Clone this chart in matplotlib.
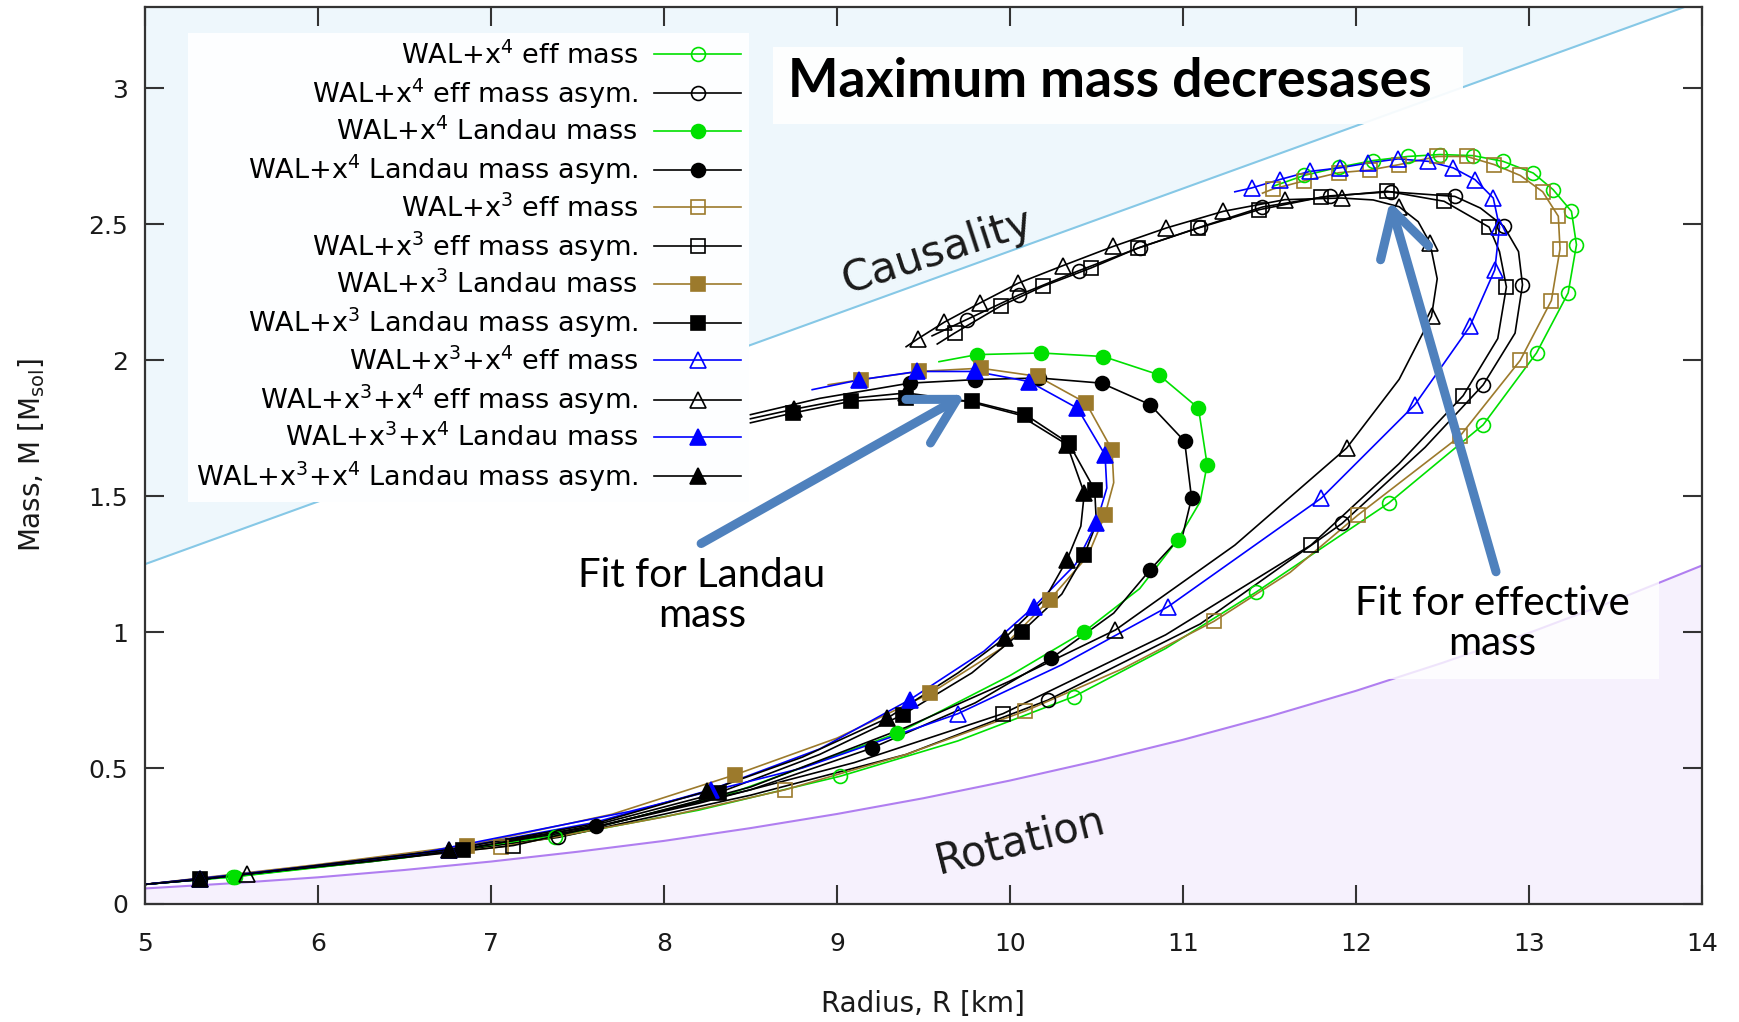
import matplotlib.pyplot as plt
from matplotlib.lines import Line2D
from matplotlib.patches import Rectangle

plt.rcParams['font.family'] = ['DejaVu Sans']
plt.rcParams['mathtext.fontset'] = 'dejavusans'

# causality and rotation limits (R in km, M in M_sol)
causalityR = [5.0, 13.9]
causalityM = [1.25, 3.30]
rotationR = [5, 5.5, 6, 6.5, 7, 7.5, 8, 8.5, 9, 9.5, 10, 10.5, 11, 11.5, 12, 12.5, 13, 13.5, 14]
rotationM = [0.057, 0.076, 0.098, 0.125, 0.156, 0.192, 0.232, 0.279, 0.331, 0.389, 0.454, 0.526, 0.604,
             0.690, 0.784, 0.887, 0.997, 1.117, 1.245]

# WAL+x4 eff mass
x4EffR = [5.0, 5.51, 6.4, 7.37, 8.2, 9.02, 9.7, 10.37, 10.9, 11.42, 12.19, 12.736, 13.044, 13.227, 13.275,
          13.246, 13.14, 13.025, 12.851, 12.678, 12.485, 12.30, 12.10, 11.90, 11.70, 11.52]
x4EffM = [0.072, 0.10, 0.165, 0.245, 0.345, 0.47, 0.60, 0.763, 0.94, 1.146, 1.475, 1.763, 2.027, 2.248, 2.425,
          2.548, 2.628, 2.689, 2.732, 2.753, 2.757, 2.75, 2.735, 2.71, 2.68, 2.64]
x4EffMkR = [5.51, 7.37, 9.02, 10.37, 11.42, 12.19, 12.736, 13.044, 13.227, 13.275, 13.246, 13.14, 13.025,
            12.851, 12.678, 12.485, 12.30, 12.10, 11.90, 11.70]
x4EffMkM = [0.10, 0.245, 0.47, 0.763, 1.146, 1.475, 1.763, 2.027, 2.248, 2.425, 2.548, 2.628, 2.689,
            2.732, 2.753, 2.757, 2.75, 2.735, 2.71, 2.68]

# WAL+x4 eff mass asym.
x4EffAsR = [5.0, 6.3, 7.39, 8.5, 9.4, 10.22, 11.1, 11.92, 12.4, 12.736, 12.92, 12.963, 12.94, 12.855, 12.72,
            12.572, 12.2, 11.85, 11.46, 11.1, 10.75, 10.4, 10.05, 9.75, 9.55]
x4EffAsM = [0.072, 0.155, 0.245, 0.40, 0.55, 0.75, 1.03, 1.40, 1.68, 1.91, 2.10, 2.278, 2.40, 2.493, 2.56,
            2.603, 2.62, 2.605, 2.564, 2.49, 2.415, 2.33, 2.24, 2.15, 2.09]
x4EffAsMkR = [7.39, 10.22, 11.92, 12.736, 12.963, 12.855, 12.572, 12.2, 11.85, 11.46, 11.1, 10.75, 10.4,
              10.05, 9.75]
x4EffAsMkM = [0.245, 0.75, 1.40, 1.91, 2.278, 2.493, 2.603, 2.62, 2.605, 2.564, 2.49, 2.415, 2.33,
              2.24, 2.15]

# WAL+x4 Landau mass
x4LanR = [5.0, 5.52, 6.5, 7.5, 8.4, 9.35, 10.0, 10.43, 10.75, 10.97, 11.1, 11.14, 11.09, 10.86, 10.54,
          10.18, 9.81, 9.59]
x4LanM = [0.072, 0.10, 0.17, 0.265, 0.41, 0.628, 0.84, 1.002, 1.16, 1.34, 1.48, 1.616, 1.824, 1.947, 2.014,
          2.027, 2.021, 1.995]
x4LanMkR = [5.52, 9.35, 10.43, 10.97, 11.14, 11.09, 10.86, 10.54, 10.18, 9.81]
x4LanMkM = [0.10, 0.628, 1.002, 1.34, 1.616, 1.824, 1.947, 2.014, 2.027, 2.021]

# WAL+x4 Landau mass asym.
x4LanAsR = [5.0, 5.32, 6.5, 7.61, 8.5, 9.20, 9.8, 10.24, 10.6, 10.81, 11.0, 11.05, 11.01, 10.81, 10.53,
            10.17, 9.80, 9.42, 8.9, 8.5]
x4LanAsM = [0.072, 0.09, 0.18, 0.285, 0.42, 0.573, 0.74, 0.904, 1.07, 1.229, 1.36, 1.493, 1.702, 1.837, 1.916,
            1.935, 1.929, 1.916, 1.86, 1.80]
x4LanAsMkR = [5.32, 7.61, 9.20, 10.24, 10.81, 11.05, 11.01, 10.81, 10.53, 10.17, 9.80, 9.42]
x4LanAsMkM = [0.09, 0.285, 0.573, 0.904, 1.229, 1.493, 1.702, 1.837, 1.916, 1.935, 1.929, 1.916]

# WAL+x3 eff mass
x3EffR = [5.0, 6.0, 7.06, 8.0, 8.70, 9.4, 10.09, 10.65, 11.18, 11.62, 12.01, 12.6, 12.95, 13.13, 13.18,
          13.17, 13.08, 12.95, 12.80, 12.64, 12.47, 12.25, 12.08, 11.90, 11.70, 11.52, 11.46]
x3EffM = [0.072, 0.14, 0.21, 0.32, 0.42, 0.55, 0.71, 0.865, 1.04, 1.22, 1.43, 1.72, 2.0, 2.22, 2.41,
          2.53, 2.62, 2.68, 2.72, 2.75, 2.75, 2.72, 2.70, 2.69, 2.66, 2.63, 2.615]
x3EffMkR = [7.06, 8.70, 10.09, 11.18, 12.01, 12.6, 12.95, 13.13, 13.18, 13.17, 13.08, 12.95, 12.80, 12.64,
            12.47, 12.25, 12.08, 11.90, 11.70, 11.52]
x3EffMkM = [0.21, 0.42, 0.71, 1.04, 1.43, 1.72, 2.0, 2.22, 2.41, 2.53, 2.62, 2.68, 2.72, 2.75,
            2.75, 2.72, 2.70, 2.69, 2.66, 2.63]

# WAL+x3 eff mass asym.
x3EffAsR = [5.0, 6.2, 7.13, 8.2, 9.1, 9.96, 10.9, 11.74, 12.25, 12.62, 12.82, 12.87, 12.83, 12.77, 12.51,
            12.18, 11.80, 11.44, 11.09, 10.74, 10.47, 10.19, 9.95, 9.68, 9.58]
x3EffAsM = [0.072, 0.15, 0.215, 0.37, 0.52, 0.70, 0.99, 1.32, 1.62, 1.87, 2.08, 2.27, 2.40, 2.49, 2.585,
            2.622, 2.60, 2.554, 2.487, 2.413, 2.34, 2.272, 2.201, 2.10, 2.06]
x3EffAsMkR = [7.13, 9.96, 11.74, 12.62, 12.87, 12.77, 12.51, 12.18, 11.80, 11.44, 11.09, 10.74, 10.47,
              10.19, 9.95, 9.68]
x3EffAsMkM = [0.215, 0.70, 1.32, 1.87, 2.27, 2.49, 2.585, 2.622, 2.60, 2.554, 2.487, 2.413, 2.34,
              2.272, 2.201, 2.10]

# WAL+x3 Landau mass
x3LanR = [5.0, 6.0, 6.86, 7.7, 8.41, 9.0, 9.54, 9.95, 10.23, 10.45, 10.55, 10.6, 10.59, 10.44, 10.16, 9.83,
          9.475, 9.14, 8.95]
x3LanM = [0.072, 0.145, 0.215, 0.33, 0.475, 0.61, 0.775, 0.94, 1.119, 1.28, 1.432, 1.55, 1.671, 1.843, 1.941,
          1.971, 1.959, 1.929, 1.91]
x3LanMkR = [6.86, 8.41, 9.54, 10.23, 10.55, 10.59, 10.44, 10.16, 9.83, 9.475, 9.14]
x3LanMkM = [0.215, 0.475, 0.775, 1.119, 1.432, 1.671, 1.843, 1.941, 1.971, 1.959, 1.929]

# WAL+x3 Landau mass asym.
x3LanAsR = [5.0, 5.32, 6.84, 7.6, 8.32, 8.9, 9.38, 9.78, 10.07, 10.3, 10.43, 10.5, 10.49, 10.34, 10.09, 9.78,
            9.40, 9.08, 8.745, 8.5]
x3LanAsM = [0.072, 0.09, 0.20, 0.29, 0.41, 0.55, 0.696, 0.85, 1.002, 1.14, 1.284, 1.40, 1.524, 1.695, 1.80,
            1.849, 1.861, 1.849, 1.806, 1.77]
x3LanAsMkR = [5.32, 6.84, 8.32, 9.38, 10.07, 10.43, 10.49, 10.34, 10.09, 9.78, 9.40, 9.08, 8.745]
x3LanAsMkM = [0.09, 0.20, 0.41, 0.696, 1.002, 1.284, 1.524, 1.695, 1.80, 1.849, 1.861, 1.849, 1.806]

# WAL+x3+x4 eff mass
x34EffR = [5.0, 6.5, 7.8, 8.8, 9.70, 10.3, 10.915, 11.80, 12.34, 12.659, 12.803, 12.83, 12.794, 12.688,
           12.562, 12.418, 12.244, 12.071, 11.907, 11.734, 11.56, 11.397, 11.30]
x34EffM = [0.072, 0.175, 0.34, 0.50, 0.70, 0.88, 1.094, 1.493, 1.836, 2.125, 2.333, 2.49, 2.597, 2.665,
           2.708, 2.732, 2.741, 2.726, 2.708, 2.695, 2.665, 2.634, 2.62]
x34EffMkR = [9.70, 10.915, 11.80, 12.34, 12.659, 12.803, 12.83, 12.794, 12.688, 12.562, 12.418, 12.244,
             12.071, 11.907, 11.734, 11.56, 11.397]
x34EffMkM = [0.70, 1.094, 1.493, 1.836, 2.125, 2.333, 2.49, 2.597, 2.665, 2.708, 2.732, 2.741,
             2.726, 2.708, 2.695, 2.665, 2.634]

# WAL+x3+x4 eff mass asym.
x34EffAsR = [5.0, 5.59, 6.6, 7.6, 8.5, 9.4, 10.0, 10.61, 11.3, 11.946, 12.25, 12.437, 12.47, 12.428, 12.36,
             12.25, 12.1, 11.917, 11.589, 11.233, 10.905, 10.597, 10.305, 10.049, 9.827, 9.62, 9.47, 9.40]
x34EffAsM = [0.072, 0.11, 0.18, 0.28, 0.43, 0.65, 0.82, 1.008, 1.32, 1.677, 1.93, 2.162, 2.30, 2.432, 2.51,
             2.565, 2.59, 2.597, 2.591, 2.548, 2.487, 2.419, 2.348, 2.284, 2.211, 2.14, 2.08, 2.05]
x34EffAsMkR = [5.59, 10.61, 11.946, 12.437, 12.428, 12.25, 11.917, 11.589, 11.233, 10.905, 10.597, 10.305,
               10.049, 9.827, 9.62, 9.47]
x34EffAsMkM = [0.11, 1.008, 1.677, 2.162, 2.432, 2.565, 2.597, 2.591, 2.548, 2.487, 2.419, 2.348,
               2.284, 2.211, 2.14, 2.08]

# WAL+x3+x4 Landau mass
x34LanR = [5.0, 5.32, 6.76, 7.6, 8.27, 8.9, 9.42, 9.85, 10.14, 10.38, 10.50, 10.56, 10.55, 10.39, 10.11, 9.80,
           9.465, 9.13, 8.857]
x34LanM = [0.072, 0.09, 0.20, 0.30, 0.42, 0.57, 0.751, 0.93, 1.094, 1.25, 1.401, 1.53, 1.652, 1.824, 1.922,
           1.959, 1.959, 1.928, 1.892]
x34LanMkR = [5.32, 6.76, 8.27, 9.42, 10.14, 10.50, 10.55, 10.39, 10.11, 9.80, 9.465, 9.13]
x34LanMkM = [0.09, 0.20, 0.42, 0.751, 1.094, 1.401, 1.652, 1.824, 1.922, 1.959, 1.959, 1.928]

# WAL+x3+x4 Landau mass asym.
x34LanAsR = [5.0, 5.32, 6.76, 7.6, 8.25, 8.8, 9.29, 9.7, 9.97, 10.2, 10.33, 10.41, 10.43, 10.33, 10.05, 9.75,
             9.40, 9.08, 8.75, 8.5]
x34LanAsM = [0.072, 0.09, 0.20, 0.295, 0.415, 0.54, 0.683, 0.85, 0.978, 1.12, 1.266, 1.39, 1.511, 1.69, 1.80,
             1.85, 1.88, 1.86, 1.82, 1.785]
x34LanAsMkR = [5.32, 6.76, 8.25, 9.29, 9.97, 10.33, 10.43, 10.33, 9.40, 8.75]
x34LanAsMkM = [0.09, 0.20, 0.415, 0.683, 0.978, 1.266, 1.511, 1.69, 1.88, 1.82]

labels = ['WAL+x$^4$ eff mass', 'WAL+x$^4$ eff mass asym.', 'WAL+x$^4$ Landau mass',
          'WAL+x$^4$ Landau mass asym.', 'WAL+x$^3$ eff mass', 'WAL+x$^3$ eff mass asym.',
          'WAL+x$^3$ Landau mass', 'WAL+x$^3$ Landau mass asym.', 'WAL+x$^3$+x$^4$ eff mass',
          'WAL+x$^3$+x$^4$ eff mass asym.', 'WAL+x$^3$+x$^4$ Landau mass', 'WAL+x$^3$+x$^4$ Landau mass asym.']

green = '#00e000'
gold = '#9c7a2c'
blue = '#0000ff'
black = '#000000'

series = [
    (x4EffR, x4EffM, x4EffMkR, x4EffMkM, green, 'o', False),
    (x4EffAsR, x4EffAsM, x4EffAsMkR, x4EffAsMkM, black, 'o', False),
    (x4LanR, x4LanM, x4LanMkR, x4LanMkM, green, 'o', True),
    (x4LanAsR, x4LanAsM, x4LanAsMkR, x4LanAsMkM, black, 'o', True),
    (x3EffR, x3EffM, x3EffMkR, x3EffMkM, gold, 's', False),
    (x3EffAsR, x3EffAsM, x3EffAsMkR, x3EffAsMkM, black, 's', False),
    (x3LanR, x3LanM, x3LanMkR, x3LanMkM, gold, 's', True),
    (x3LanAsR, x3LanAsM, x3LanAsMkR, x3LanAsMkM, black, 's', True),
    (x34EffR, x34EffM, x34EffMkR, x34EffMkM, blue, '^', False),
    (x34EffAsR, x34EffAsM, x34EffAsMkR, x34EffAsMkM, black, '^', False),
    (x34LanR, x34LanM, x34LanMkR, x34LanMkM, blue, '^', True),
    (x34LanAsR, x34LanAsM, x34LanAsMkR, x34LanAsMkM, black, '^', True),
]

fig = plt.figure(figsize=(17.4, 10.22), dpi=100)
ax = fig.add_axes([0.0833, 0.1155, 0.8948, 0.8777])
ax.set_xlim(5, 14)
ax.set_ylim(0, 3.3)

# shaded forbidden regions
ax.fill_between(causalityR, causalityM, 3.5, color='#eef7fc', lw=0, zorder=0)
ax.plot(causalityR, causalityM, color='#86c8e6', lw=1.5, zorder=1)
ax.fill_between(rotationR, 0, rotationM, color='#f6f1fd', lw=0, zorder=0)
ax.plot(rotationR, rotationM, color='#b07ef0', lw=1.5, zorder=1)

handles = []
for i, (lr, lm, mr, mm, col, mk, filled) in enumerate(series):
    fc = col if filled else 'none'
    ms = 11 if mk == '^' else 10
    ax.plot(lr, lm, color=col, lw=1.2, zorder=2 + i * 0.01)
    ax.plot(mr, mm, ls='none', marker=mk, ms=ms, mfc=fc, mec=col, mew=1.2, zorder=3 + i * 0.01)
    handles.append(Line2D([], [], color=col, lw=1.2, marker=mk, ms=ms, mfc=fc, mec=col, mew=1.2))

ax.set_xticks(range(5, 15))
ax.set_yticks([0, 0.5, 1, 1.5, 2, 2.5, 3])
ax.set_yticklabels(['0', '0.5', '1', '1.5', '2', '2.5', '3'])
ax.tick_params(direction='in', length=14, width=1.5, top=True, right=True, labelsize=18,
               colors='#333333', labelcolor='#1a1a1a')
ax.tick_params(axis='x', pad=20)
ax.tick_params(axis='y', pad=12)
for s in ax.spines.values():
    s.set_linewidth(1.6)
    s.set_color('#333333')

ax.set_xlabel('Radius, R [km]', fontsize=20, labelpad=25, color='#1a1a1a')
ax.set_ylabel(r'Mass, M [M$_{\mathrm{sol}}$]', fontsize=20, labelpad=30, color='#1a1a1a')

leg = ax.legend(handles, labels, loc='upper right', bbox_to_anchor=(0.388, 0.971), markerfirst=False,
                fontsize=19.5, labelspacing=0.25, handlelength=3.2, handletextpad=0.6, borderpad=0.3,
                borderaxespad=0, frameon=True, fancybox=False, framealpha=1.0, facecolor='#fdfeff',
                edgecolor='none')
leg.set_zorder(20)

ax.text(9.58, 2.40, 'Causality', rotation=18, fontsize=31, ha='center', va='center', color='#1a1a1a',
        rotation_mode='anchor', zorder=4)
ax.text(10.06, 0.232, 'Rotation', rotation=14, fontsize=30, ha='center', va='center', color='#1a1a1a',
        rotation_mode='anchor', zorder=4)

ax.add_patch(Rectangle((8.63, 2.87), 3.99, 0.282, fc='white', ec='none', alpha=0.92, zorder=6))
ax.text(10.576, 3.027, 'Maximum mass decresases', fontfamily='Lato', fontweight='bold', fontsize=38.5,
        ha='center', va='center', zorder=7)

ax.add_patch(Rectangle((11.92, 0.827), 1.83, 0.397, fc='white', ec='none', alpha=0.8, zorder=6))
ax.text(8.22, 1.134, 'Fit for Landau\nmass', fontfamily='Lato', fontsize=29, ha='center', va='center',
        linespacing=1.1, zorder=7)
ax.text(12.79, 1.03, 'Fit for effective\nmass', fontfamily='Lato', fontsize=29, ha='center', va='center',
        linespacing=1.1, zorder=7)

arrowCol = '#4f81bd'
ax.annotate('', xy=(9.74, 1.873), xytext=(8.215, 1.326),
            arrowprops=dict(arrowstyle='->,head_length=3.2,head_width=1.8', lw=6.5, color=arrowCol,
                            shrinkA=0, shrinkB=0, capstyle='round', joinstyle='round'), zorder=8)
ax.annotate('', xy=(12.196, 2.585), xytext=(12.81, 1.222),
            arrowprops=dict(arrowstyle='->,head_length=3.2,head_width=1.8', lw=6.5, color=arrowCol,
                            shrinkA=0, shrinkB=0, capstyle='round', joinstyle='round'), zorder=8)

fig.savefig('out.png', dpi=100)
